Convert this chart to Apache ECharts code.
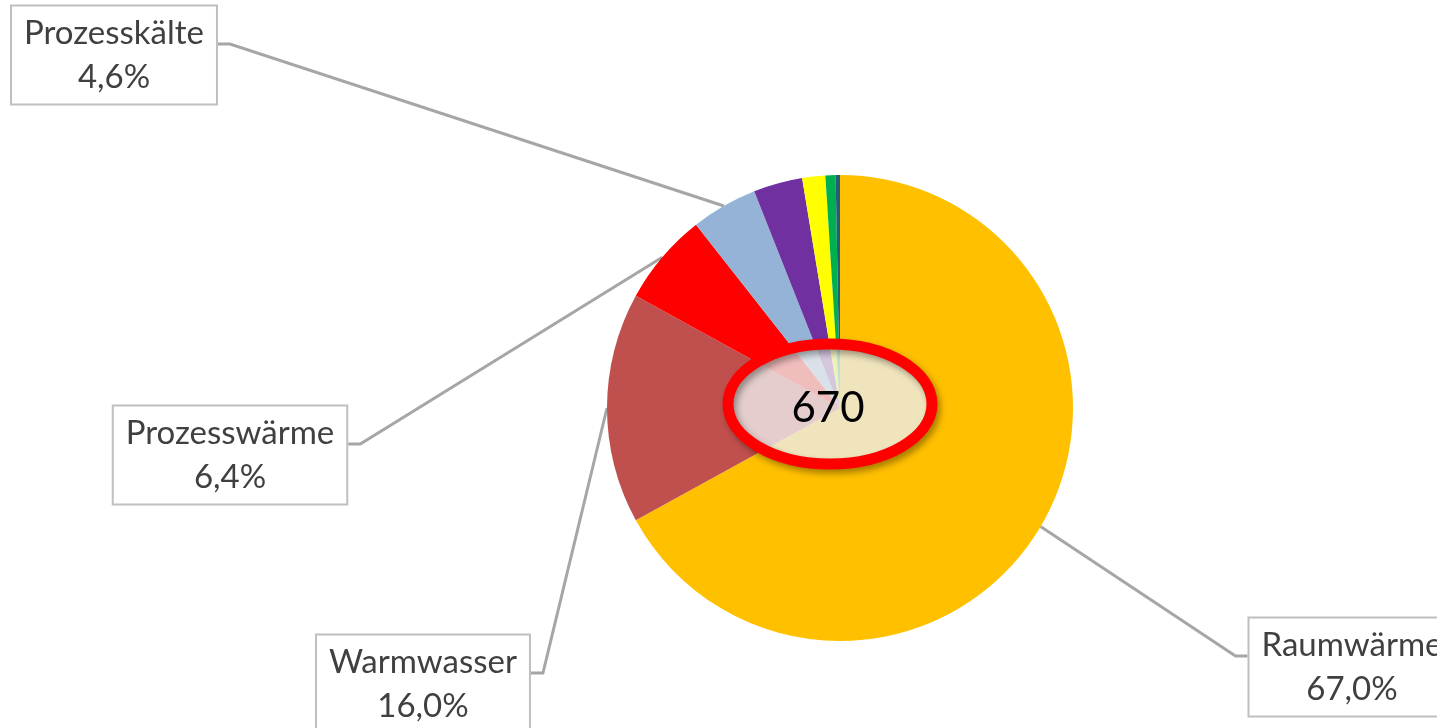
<!DOCTYPE html>
<html>
<head>
<meta charset="utf-8">
<script src="https://cdn.jsdelivr.net/npm/echarts@6/dist/echarts.min.js"></script>
<style>
html,body{margin:0;padding:0;background:#fff;}
#chart{width:1437px;height:728px;}
</style>
</head>
<body>
<div id="chart"></div>
<script>
// ---- data ----
var categories = ['Raumwärme', 'Warmwasser', 'Prozesswärme', 'Prozesskälte', 'Mechanische Energie', 'Beleuchtung', 'IKT', 'Klimakälte'];
var shares = [67.0, 16.0, 6.4, 4.6, 3.4, 1.6, 0.7, 0.3];
var labelledCategories = ['Raumwärme', 'Warmwasser', 'Prozesswärme', 'Prozesskälte'];
var totalValue = 670;

// ---- styles / layout ----
var colors = ['#FFC000', '#C0504D', '#FF0000', '#95B3D7', '#7030A0', '#FFFF00', '#00B050', '#215E78'];
var labelCenters = {
  'Raumwärme': [1352, 667],
  'Warmwasser': [423, 684],
  'Prozesswärme': [230, 455],
  'Prozesskälte': [114, 55]
};
var fontFamily = 'Lato, "Open Sans", sans-serif';

function fmt(v) { return v.toFixed(1).replace('.', ',') + '%'; }

var data = categories.map(function (c, i) {
  var show = labelledCategories.indexOf(c) >= 0;
  return {
    name: c,
    value: shares[i],
    itemStyle: { color: colors[i] },
    label: { show: show },
    labelLine: { show: show }
  };
});

var chart = echarts.init(document.getElementById('chart'), null, { renderer: 'canvas' });
chart.setOption({
  animation: false,
  backgroundColor: '#ffffff',
  series: [{
    type: 'pie',
    center: [840, 408],
    radius: [0, 233],
    startAngle: 90,
    clockwise: true,
    avoidLabelOverlap: false,
    data: data,
    label: {
      position: 'outside',
      formatter: function (p) { return p.name + '\n' + fmt(p.value); },
      fontFamily: fontFamily,
      fontSize: 33,
      lineHeight: 44,
      color: '#404040',
      align: 'center',
      backgroundColor: '#ffffff',
      borderColor: '#BFBFBF',
      borderWidth: 2,
      padding: [5, 12, 4, 12]
    },
    labelLine: {
      lineStyle: { color: '#A6A6A6', width: 3 },
      length: 20,
      length2: 12
    },
    labelLayout: function (params) {
      var name = categories[params.dataIndex];
      var c = labelCenters[name];
      if (!c) return {};
      var w = params.labelRect.width;
      var start = params.labelLinePoints ? params.labelLinePoints[0] : null;
      var left = c[0] > 840;
      var ax = left ? c[0] - w / 2 : c[0] + w / 2;
      var ay = c[1] - 11;
      var ex = left ? ax - 12 : ax + 12;
      var out = { x: c[0], y: c[1], align: 'center', verticalAlign: 'middle' };
      if (start) out.labelLinePoints = [start, [ex, ay], [ax, ay]];
      return out;
    },
    emphasis: { disabled: true }
  }],
  graphic: [
    {
      type: 'ellipse',
      shape: { cx: 830, cy: 404, rx: 102, ry: 60 },
      style: {
        fill: 'rgba(236,236,236,0.8)'
      },
      z: 100
    },
    {
      type: 'ellipse',
      shape: { cx: 830, cy: 404, rx: 102, ry: 60 },
      style: {
        fill: null,
        stroke: '#FF0000',
        lineWidth: 11,
        shadowBlur: 6,
        shadowOffsetX: 3,
        shadowOffsetY: 4,
        shadowColor: 'rgba(0,0,0,0.35)'
      },
      z: 101
    },
    {
      type: 'text',
      x: 828,
      y: 408,
      style: {
        text: String(totalValue),
        fontFamily: fontFamily,
        fontSize: 42,
        fill: '#000000',
        align: 'center',
        verticalAlign: 'middle'
      },
      z: 102
    }
  ]
});
</script>
</body>
</html>
